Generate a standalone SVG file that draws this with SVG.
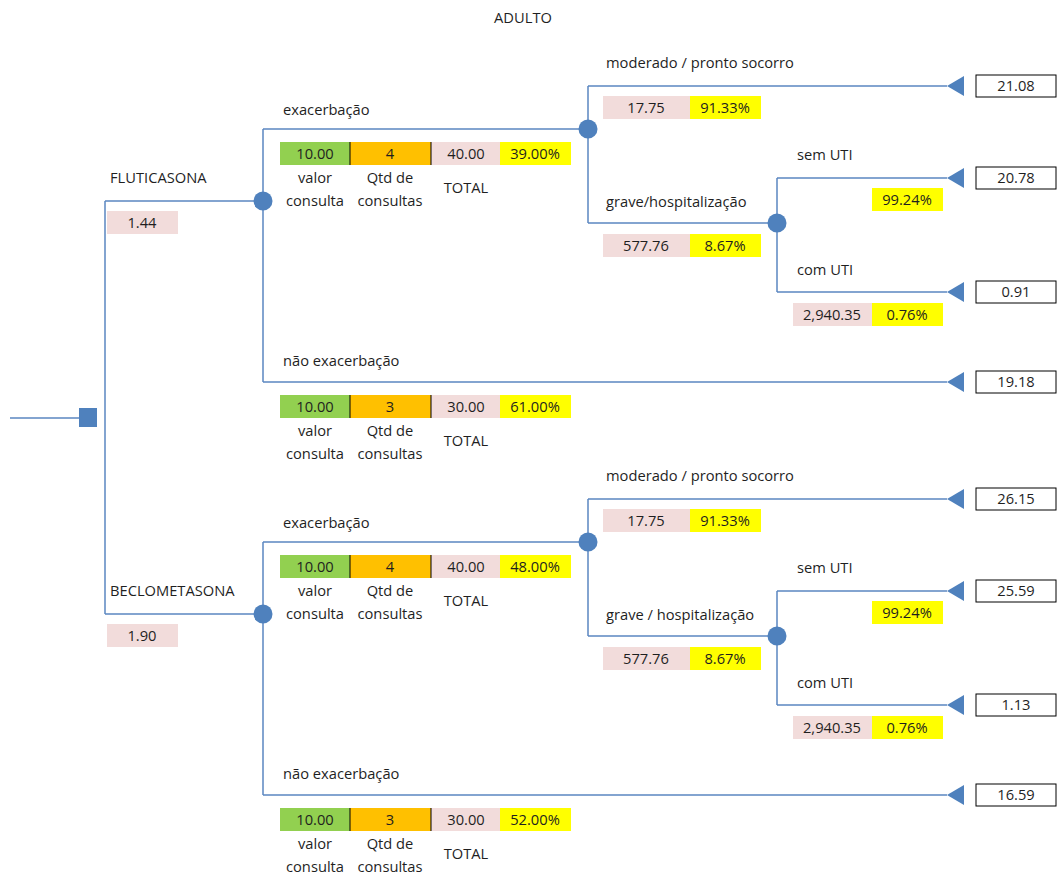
<svg xmlns="http://www.w3.org/2000/svg" width="1057" height="877" viewBox="0 0 1057 877">
<style>
.ln{stroke:#5b87c1;stroke-width:1.5;fill:none}
.t{font-family:"Open Sans","Liberation Sans",sans-serif;font-size:14.7px;fill:#1f1f1f}
.m{text-anchor:middle}
.nd{fill:#4f81bd}
.g{fill:#92d050}.o{fill:#ffc000}.p{fill:#f2dcdb}.y{fill:#ffff00}
.sep{stroke:#000;stroke-width:1}
.bx{fill:#fff;stroke:#000;stroke-width:1}
</style>
<rect width="1057" height="877" fill="#fff"/>
<g id="title"><text class="t m" x="523" y="23">ADULTO</text></g>

<g id="connectors">
<path class="ln" d="M10 418H88M105 201V614M105 201H263M105 614H263"/>
<path class="ln" d="M263 129V382M263 129H588M263 382H947M588 86V223M588 86H947M588 223H777M777 178V292M777 178H947M777 292H947"/>
<path class="ln" d="M263 542V795M263 542H588M263 795H947M588 499V636M588 499H947M588 636H777M777 591V705M777 591H947M777 705H947"/>
</g>

<g id="decision"><rect class="nd" x="79" y="408" width="18" height="19"/></g>

<g id="fluticasona">
<text class="t" x="110" y="183">FLUTICASONA</text>
<rect class="p" x="107" y="211" width="71" height="23"/>
<text class="t m" x="142" y="228">1.44</text>
</g>
<g id="chance-flut"><circle class="nd" cx="263" cy="201" r="9.5"/></g>

<g id="exac-flut">
<text class="t" x="283" y="115">exacerbação</text>
<rect class="g" x="280" y="142" width="70" height="23"/>
<rect class="o" x="350" y="142" width="81" height="23"/>
<rect class="p" x="431" y="142" width="69" height="23"/>
<rect class="y" x="500" y="142" width="71" height="23"/>
<path class="sep" d="M350 142V165M431 142V165"/>
<text class="t m" x="315" y="159">10.00</text>
<text class="t m" x="390" y="159">4</text>
<text class="t m" x="466" y="159">40.00</text>
<text class="t m" x="535" y="159">39.00%</text>
<text class="t m" x="315" y="183">valor</text>
<text class="t m" x="315" y="206">consulta</text>
<text class="t m" x="390" y="183">Qtd de</text>
<text class="t m" x="390" y="206">consultas</text>
<text class="t m" x="466" y="193">TOTAL</text>
</g>
<g id="chance-exac-flut"><circle class="nd" cx="588" cy="129" r="9.5"/></g>

<g id="moderado-flut">
<text class="t" x="606" y="68">moderado / pronto socorro</text>
<rect class="p" x="603" y="96" width="87" height="23"/>
<rect class="y" x="690" y="96" width="71" height="23"/>
<text class="t m" x="646" y="113">17.75</text>
<text class="t m" x="725" y="113">91.33%</text>
</g>
<g id="grave-flut">
<text class="t" x="606" y="207">grave/hospitalização</text>
<rect class="p" x="603" y="234" width="87" height="23"/>
<rect class="y" x="690" y="234" width="71" height="23"/>
<text class="t m" x="646" y="251">577.76</text>
<text class="t m" x="725" y="251">8.67%</text>
</g>
<g id="chance-grave-flut"><circle class="nd" cx="777" cy="223" r="9.5"/></g>
<g id="semuti-flut">
<text class="t" x="797" y="160">sem UTI</text>
<rect class="y" x="872" y="188" width="71" height="23"/>
<text class="t m" x="907" y="205">99.24%</text>
</g>
<g id="comuti-flut">
<text class="t" x="797" y="275">com UTI</text>
<rect class="p" x="793" y="303" width="79" height="23"/>
<rect class="y" x="872" y="303" width="71" height="23"/>
<text class="t m" x="832" y="320">2,940.35</text>
<text class="t m" x="907" y="320">0.76%</text>
</g>
<g id="naoexac-flut">
<text class="t" x="283" y="366">não exacerbação</text>
<rect class="g" x="280" y="395" width="70" height="23"/>
<rect class="o" x="350" y="395" width="81" height="23"/>
<rect class="p" x="431" y="395" width="69" height="23"/>
<rect class="y" x="500" y="395" width="71" height="23"/>
<path class="sep" d="M350 395V418M431 395V418"/>
<text class="t m" x="315" y="412">10.00</text>
<text class="t m" x="390" y="412">3</text>
<text class="t m" x="466" y="412">30.00</text>
<text class="t m" x="535" y="412">61.00%</text>
<text class="t m" x="315" y="436">valor</text>
<text class="t m" x="315" y="459">consulta</text>
<text class="t m" x="390" y="436">Qtd de</text>
<text class="t m" x="390" y="459">consultas</text>
<text class="t m" x="466" y="446">TOTAL</text>
</g>

<g id="term-f1"><polygon class="nd" points="947,86 964,76 964,96"/><rect class="bx" x="976" y="75" width="80" height="22"/><text class="t m" x="1016" y="91">21.08</text></g>
<g id="term-f2"><polygon class="nd" points="947,178 964,168 964,188"/><rect class="bx" x="976" y="167" width="80" height="22"/><text class="t m" x="1016" y="183">20.78</text></g>
<g id="term-f3"><polygon class="nd" points="947,292 964,282 964,302"/><rect class="bx" x="976" y="281" width="80" height="22"/><text class="t m" x="1016" y="297">0.91</text></g>
<g id="term-f4"><polygon class="nd" points="947,382 964,372 964,392"/><rect class="bx" x="976" y="371" width="80" height="22"/><text class="t m" x="1016" y="387">19.18</text></g>

<g id="beclometasona">
<text class="t" x="110" y="596">BECLOMETASONA</text>
<rect class="p" x="107" y="624" width="71" height="23"/>
<text class="t m" x="142" y="641">1.90</text>
</g>
<g id="chance-becl"><circle class="nd" cx="263" cy="614" r="9.5"/></g>

<g id="exac-becl">
<text class="t" x="283" y="528">exacerbação</text>
<rect class="g" x="280" y="555" width="70" height="23"/>
<rect class="o" x="350" y="555" width="81" height="23"/>
<rect class="p" x="431" y="555" width="69" height="23"/>
<rect class="y" x="500" y="555" width="71" height="23"/>
<path class="sep" d="M350 555V578M431 555V578"/>
<text class="t m" x="315" y="572">10.00</text>
<text class="t m" x="390" y="572">4</text>
<text class="t m" x="466" y="572">40.00</text>
<text class="t m" x="535" y="572">48.00%</text>
<text class="t m" x="315" y="596">valor</text>
<text class="t m" x="315" y="619">consulta</text>
<text class="t m" x="390" y="596">Qtd de</text>
<text class="t m" x="390" y="619">consultas</text>
<text class="t m" x="466" y="606">TOTAL</text>
</g>
<g id="chance-exac-becl"><circle class="nd" cx="588" cy="542" r="9.5"/></g>

<g id="moderado-becl">
<text class="t" x="606" y="481">moderado / pronto socorro</text>
<rect class="p" x="603" y="509" width="87" height="23"/>
<rect class="y" x="690" y="509" width="71" height="23"/>
<text class="t m" x="646" y="526">17.75</text>
<text class="t m" x="725" y="526">91.33%</text>
</g>
<g id="grave-becl">
<text class="t" x="606" y="620">grave / hospitalização</text>
<rect class="p" x="603" y="647" width="87" height="23"/>
<rect class="y" x="690" y="647" width="71" height="23"/>
<text class="t m" x="646" y="664">577.76</text>
<text class="t m" x="725" y="664">8.67%</text>
</g>
<g id="chance-grave-becl"><circle class="nd" cx="777" cy="636" r="9.5"/></g>
<g id="semuti-becl">
<text class="t" x="797" y="573">sem UTI</text>
<rect class="y" x="872" y="601" width="71" height="23"/>
<text class="t m" x="907" y="618">99.24%</text>
</g>
<g id="comuti-becl">
<text class="t" x="797" y="688">com UTI</text>
<rect class="p" x="793" y="716" width="79" height="23"/>
<rect class="y" x="872" y="716" width="71" height="23"/>
<text class="t m" x="832" y="733">2,940.35</text>
<text class="t m" x="907" y="733">0.76%</text>
</g>
<g id="naoexac-becl">
<text class="t" x="283" y="779">não exacerbação</text>
<rect class="g" x="280" y="808" width="70" height="23"/>
<rect class="o" x="350" y="808" width="81" height="23"/>
<rect class="p" x="431" y="808" width="69" height="23"/>
<rect class="y" x="500" y="808" width="71" height="23"/>
<path class="sep" d="M350 808V831M431 808V831"/>
<text class="t m" x="315" y="825">10.00</text>
<text class="t m" x="390" y="825">3</text>
<text class="t m" x="466" y="825">30.00</text>
<text class="t m" x="535" y="825">52.00%</text>
<text class="t m" x="315" y="849">valor</text>
<text class="t m" x="315" y="872">consulta</text>
<text class="t m" x="390" y="849">Qtd de</text>
<text class="t m" x="390" y="872">consultas</text>
<text class="t m" x="466" y="859">TOTAL</text>
</g>

<g id="term-b1"><polygon class="nd" points="947,499 964,489 964,509"/><rect class="bx" x="976" y="488" width="80" height="22"/><text class="t m" x="1016" y="504">26.15</text></g>
<g id="term-b2"><polygon class="nd" points="947,591 964,581 964,601"/><rect class="bx" x="976" y="580" width="80" height="22"/><text class="t m" x="1016" y="596">25.59</text></g>
<g id="term-b3"><polygon class="nd" points="947,705 964,695 964,715"/><rect class="bx" x="976" y="694" width="80" height="22"/><text class="t m" x="1016" y="710">1.13</text></g>
<g id="term-b4"><polygon class="nd" points="947,795 964,785 964,805"/><rect class="bx" x="976" y="784" width="80" height="22"/><text class="t m" x="1016" y="800">16.59</text></g>
</svg>
